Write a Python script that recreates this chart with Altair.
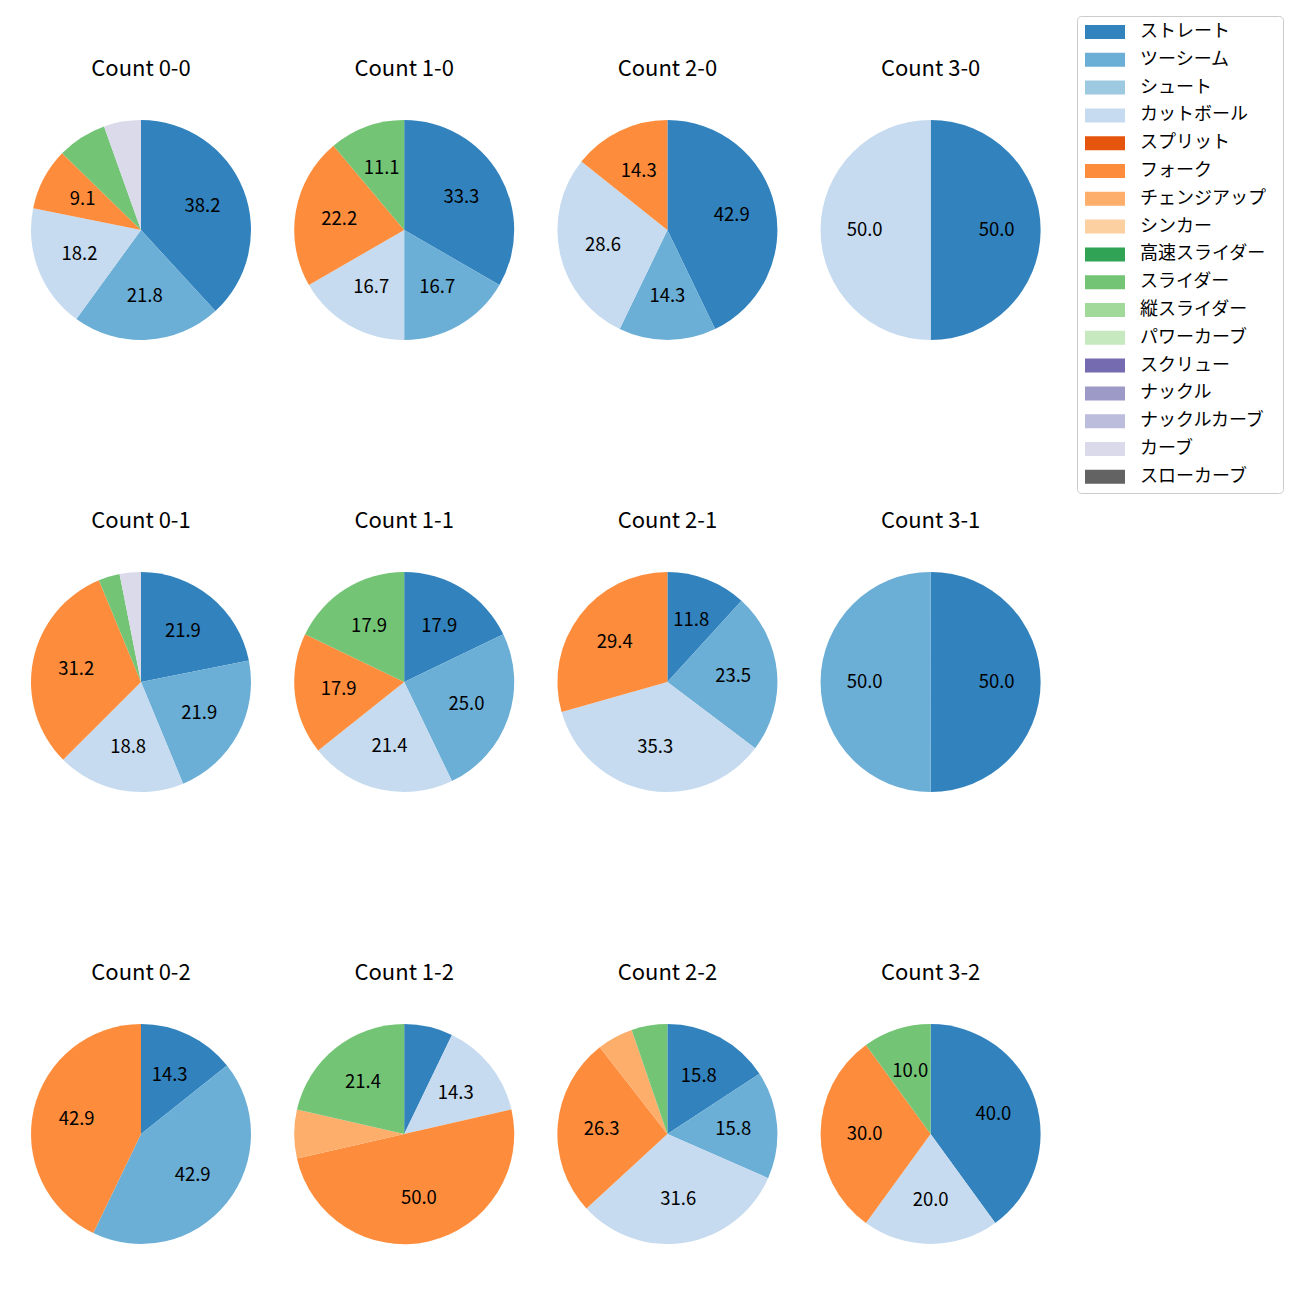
import altair as alt
import pandas as pd

FONT = "Noto Sans CJK JP"

counts = ["0-0", "1-0", "2-0", "3-0", "0-1", "1-1", "2-1", "3-1", "0-2", "1-2", "2-2", "3-2"]

pitch_types = ["ストレート", "ツーシーム", "シュート", "カットボール", "スプリット", "フォーク",
               "チェンジアップ", "シンカー", "高速スライダー", "スライダー", "縦スライダー",
               "パワーカーブ", "スクリュー", "ナックル", "ナックルカーブ", "カーブ", "スローカーブ"]
colors = ["#3182bd", "#6baed6", "#9ecae1", "#c6dbef", "#e6550d", "#fd8d3c",
          "#fdae6b", "#fdd0a2", "#31a354", "#74c476", "#a1d99b", "#c7e9c0",
          "#756bb1", "#9e9ac8", "#bcbddc", "#dadaeb", "#636363"]

# pitch counts per count situation (same order as `counts`)
straight = [21, 6, 3, 1, 7, 5, 2, 1, 1, 1, 3, 4]
twoseam = [12, 3, 1, 0, 7, 7, 4, 1, 3, 0, 3, 0]
cutball = [10, 3, 2, 1, 6, 6, 6, 0, 0, 2, 6, 2]
fork = [5, 4, 1, 0, 10, 5, 5, 0, 3, 7, 5, 3]
changeup = [0, 0, 0, 0, 0, 0, 0, 0, 0, 1, 1, 0]
slider = [4, 2, 0, 0, 1, 5, 0, 0, 0, 3, 1, 1]
curve = [3, 0, 0, 0, 1, 0, 0, 0, 0, 0, 0, 0]

series = {
    "ストレート": straight,
    "ツーシーム": twoseam,
    "カットボール": cutball,
    "フォーク": fork,
    "チェンジアップ": changeup,
    "スライダー": slider,
    "カーブ": curve,
}

rows = []
for i, c in enumerate(counts):
    total = sum(v[i] for v in series.values())
    for k, p in enumerate(pitch_types):
        if p in series and series[p][i] > 0:
            n = series[p][i]
            pct = n / total * 100
            rows.append({
                "count": "Count " + c,
                "pitch": p,
                "n": n,
                "order": k,
                "label": f"{pct:.1f}" if pct >= 8 else "",
            })
df = pd.DataFrame(rows)

color = alt.Color(
    "pitch:N",
    scale=alt.Scale(domain=pitch_types, range=colors),
    legend=alt.Legend(
        title=".",
        titleOrient="right",
        titleOpacity=0,
        titleFontSize=2,
        titlePadding=9,
        orient="none",
        legendX=1046,
        legendY=-104,
        symbolType="M-2.857,-1L2.857,-1L2.857,1L-2.857,1Z",
        symbolSize=196,
        symbolStrokeWidth=0,
        symbolOpacity=1,
        symbolOffset=12,
        labelOffset=26,
        labelFont=FONT,
        labelFontSize=18,
        labelColor="black",
        labelLimit=300,
        strokeColor="#cccccc",
        cornerRadius=4,
        padding=7,
        rowPadding=9.8,
    ),
)

base = alt.Chart(df).encode(
    theta=alt.Theta("n:Q", stack=True),
    order=alt.Order("order:Q"),
)
arcs = base.mark_arc(outerRadius=110).encode(color=color)
text = base.mark_text(radius=66, fontSize=18.5, font=FONT, color="black").encode(text="label:N")

chart = (
    alt.layer(arcs, text)
    .properties(width=220, height=220)
    .facet(
        facet=alt.Facet(
            "count:N",
            sort=["Count " + c for c in counts],
            header=alt.Header(title=None, labelFontSize=22, labelFont=FONT, labelColor="black", labelPadding=39),
        ),
        columns=4,
        spacing={"row": 170, "column": 43.2},
    )
    .resolve_scale(theta="independent")
    .properties(padding={"left": 23, "top": 7, "right": 5, "bottom": 5})
    .configure_view(stroke=None)
)

chart.save("out.html", embed_options={"renderer": "svg", "actions": False})
